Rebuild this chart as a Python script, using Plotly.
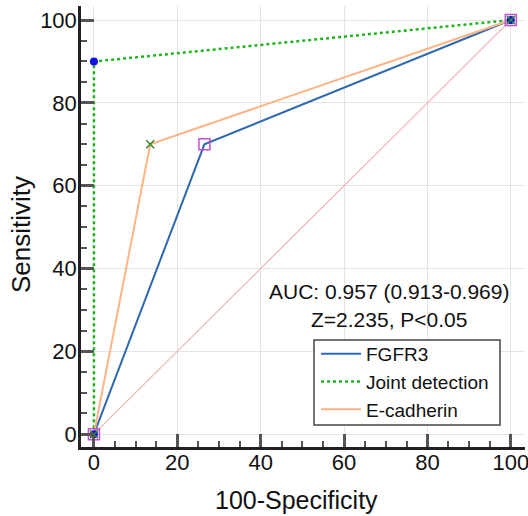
import plotly.graph_objects as go

fpr_fgfr3 = [0, 26.5, 100]
tpr_fgfr3 = [0, 70, 100]
fpr_joint = [0, 0, 100]
tpr_joint = [0, 90, 100]
fpr_ecad = [0, 13.5, 100]
tpr_ecad = [0, 70, 100]
diag = [0, 100]
ticks = [0, 20, 40, 60, 80, 100]
auc_text = "AUC: 0.957 (0.913-0.969)"
z_text = "Z=2.235, P<0.05"
x_title = "100-Specificity"
y_title = "Sensitivity"

c_fgfr3 = "#2e69b0"
c_joint = "#1fb51f"
c_ecad = "#ffb487"

W, H = 528, 516
ML, MR, MT, MB = 81, 3, 6, 69
PW, PH = W - ML - MR, H - MT - MB


def px_x(p):
    return (p - ML) / PW


def px_y(p):
    return (H - MB - p) / PH


fig = go.Figure()
fig.add_trace(go.Scatter(x=diag, y=diag, mode="lines", showlegend=False,
                         line=dict(color="#ebb8b8", width=1.2), hoverinfo="skip"))
# lines (legend entries)
fig.add_trace(go.Scatter(x=fpr_fgfr3, y=tpr_fgfr3, mode="lines", name="FGFR3",
                         line=dict(color=c_fgfr3, width=2)))
fig.add_trace(go.Scatter(x=fpr_joint, y=tpr_joint, mode="lines", name="Joint detection",
                         line=dict(color=c_joint, width=2.5, dash="dot")))
fig.add_trace(go.Scatter(x=fpr_ecad, y=tpr_ecad, mode="lines", name="E-cadherin",
                         line=dict(color=c_ecad, width=2)))
# markers
fig.add_trace(go.Scatter(x=fpr_fgfr3, y=tpr_fgfr3, mode="markers", showlegend=False,
                         marker=dict(symbol="square-open", size=11, color="#c050d0", line=dict(width=1.5))))
fig.add_trace(go.Scatter(x=fpr_joint, y=tpr_joint, mode="markers", showlegend=False,
                         marker=dict(symbol="circle", size=8, color="#1010e0")))
fig.add_trace(go.Scatter(x=fpr_ecad, y=tpr_ecad, mode="markers", showlegend=False,
                         marker=dict(symbol="x-thin-open", size=8, color="#2f8a2f",
                                     line=dict(width=1.5, color="#2f8a2f"))))

fig.add_annotation(x=70.7, y=34.5, text=auc_text, showarrow=False,
                   font=dict(size=21, color="#111"))
fig.add_annotation(x=70.7, y=27.6, text=z_text, showarrow=False,
                   font=dict(size=21, color="#111"))

# axis titles
fig.add_annotation(xref="paper", yref="paper", x=px_x(21), y=px_y(235),
                   text=y_title, textangle=-90, showarrow=False,
                   xanchor="center", yanchor="middle", font=dict(size=26, color="#111"))
fig.add_annotation(xref="paper", yref="paper", x=px_x(296), y=px_y(500),
                   text=x_title, showarrow=False,
                   xanchor="center", yanchor="middle", font=dict(size=25, color="#111"))

# legend frame
fig.add_shape(type="rect", xref="paper", yref="paper", layer="above",
              x0=px_x(314), x1=px_x(500), y0=px_y(425), y1=px_y(340),
              fillcolor="white", line=dict(color="#444", width=1.5))

axis_common = dict(
    tickvals=ticks, ticks="inside", ticklen=13, tickwidth=2.5, tickcolor="#555",
    showline=True, linewidth=2.5, linecolor="#222", showgrid=True, gridcolor="#e4e4e4",
    gridwidth=1, zeroline=False, tickfont=dict(size=22, color="#111"),
    minor=dict(ticks="inside", ticklen=6, tickwidth=1.5, tickcolor="#555", dtick=5, tick0=0, showgrid=False),
    range=[-3.1, 103.4], automargin=False, ticklabeloverflow="allow",
)

fig.update_layout(
    width=W, height=H,
    margin=dict(l=ML, r=MR, t=MT, b=MB),
    paper_bgcolor="white", plot_bgcolor="white",
    font=dict(family="Liberation Sans, Arial", color="#111"),
    xaxis=dict(**axis_common, ticklabelstandoff=-6),
    yaxis=dict(**axis_common, ticklabelstandoff=-3),
    legend=dict(x=px_x(316), y=px_y(335), xanchor="left", yanchor="top",
                bgcolor="rgba(0,0,0,0)", borderwidth=0, font=dict(size=19),
                tracegroupgap=0, itemwidth=40),
)

fig.write_html("out.html", config={"displayModeBar": False},
               post_script="document.body.style.margin='0';")
